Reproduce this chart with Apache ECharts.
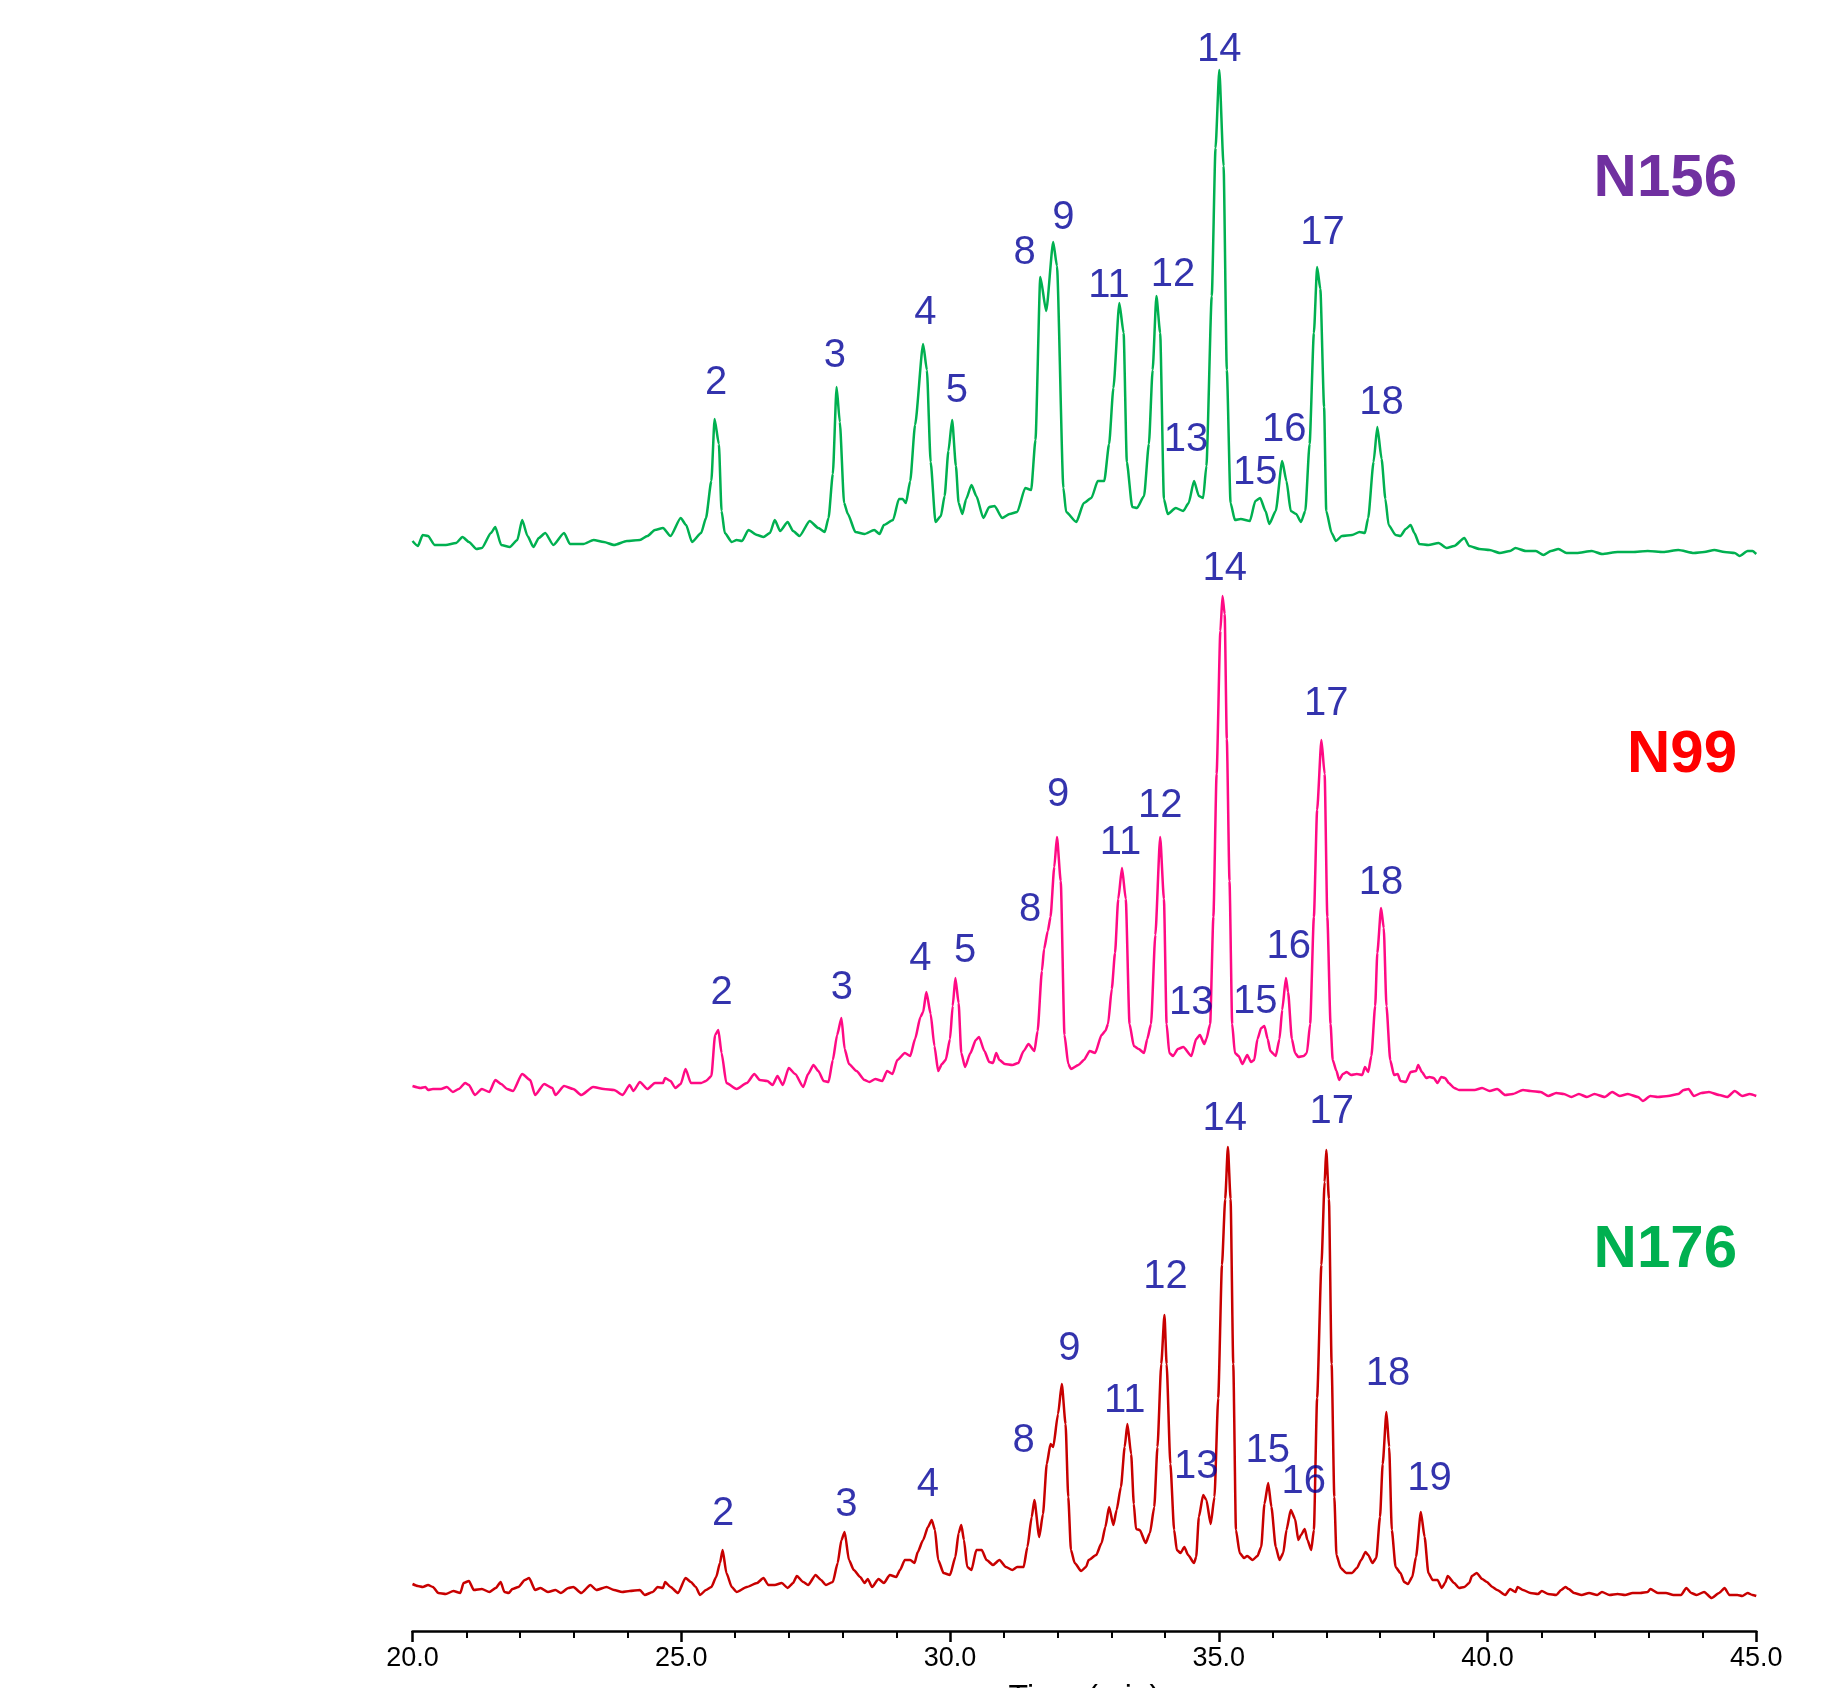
<!DOCTYPE html>
<html>
<head>
<meta charset="utf-8">
<script src="https://cdn.jsdelivr.net/npm/echarts@6.0.0/dist/echarts.min.js"></script>
<style>
  html, body { margin: 0; padding: 0; background: #ffffff; }
  #chart { width: 1832px; height: 1688px; }
</style>
</head>
<body>
<div id="chart"></div>
<script>
// ---- Data (retention time in min, detector response in arbitrary units) ----
const xTickLabels = ['20.0', '25.0', '30.0', '35.0', '40.0', '45.0'];
const sampleNames = ['N156', 'N99', 'N176'];

const n156Trace = [[20.00,19],[20.10,14],[20.19,25],[20.29,24],[20.41,15],[20.62,15],[20.81,17],[20.93,23],[21.05,18],[21.19,11],[21.29,12],[21.46,27],[21.54,33],[21.65,15],[21.81,13],[21.95,20],[22.04,40],[22.14,24],[22.25,13],[22.35,22],[22.47,27],[22.62,15],[22.82,27],[22.93,16],[23.04,16],[23.18,16],[23.37,20],[23.56,18],[23.75,15],[23.99,19],[24.23,20],[24.37,24],[24.51,30],[24.66,32],[24.80,24],[24.99,42],[25.09,35],[25.20,18],[25.37,27],[25.46,42],[25.56,79],[25.62,141],[25.70,116],[25.75,49],[25.81,27],[25.94,18],[26.03,20],[26.13,19],[26.25,30],[26.41,25],[26.53,23],[26.65,27],[26.74,40],[26.84,29],[26.98,38],[27.08,29],[27.20,24],[27.39,39],[27.55,32],[27.67,28],[27.74,42],[27.82,86],[27.89,173],[27.95,138],[28.03,57],[28.10,46],[28.24,28],[28.41,26],[28.59,30],[28.69,26],[28.77,35],[28.94,40],[29.05,61],[29.12,61],[29.18,57],[29.26,79],[29.35,135],[29.50,216],[29.57,190],[29.64,98],[29.73,38],[29.83,44],[29.90,64],[29.97,109],[30.04,140],[30.11,94],[30.16,57],[30.23,46],[30.30,61],[30.40,75],[30.49,64],[30.62,42],[30.73,53],[30.83,54],[30.97,42],[31.11,46],[31.25,48],[31.40,72],[31.51,70],[31.59,120],[31.68,283],[31.79,249],[31.92,318],[31.99,294],[32.11,72],[32.16,48],[32.35,38],[32.49,57],[32.63,62],[32.75,79],[32.87,79],[32.96,116],[33.04,172],[33.15,257],[33.23,227],[33.29,98],[33.39,53],[33.48,52],[33.61,64],[33.70,116],[33.77,190],[33.84,264],[33.91,227],[33.98,61],[34.05,46],[34.20,52],[34.34,49],[34.44,57],[34.54,79],[34.63,64],[34.71,62],[34.77,94],[34.87,264],[34.94,412],[35.01,490],[35.09,394],[35.15,190],[35.22,57],[35.30,40],[35.41,41],[35.58,39],[35.68,59],[35.77,62],[35.87,49],[35.94,36],[36.06,49],[36.18,99],[36.26,79],[36.34,49],[36.44,46],[36.53,38],[36.61,49],[36.69,116],[36.77,227],[36.83,293],[36.89,271],[36.96,153],[37.00,49],[37.10,27],[37.18,19],[37.29,24],[37.48,25],[37.62,28],[37.72,27],[37.78,42],[37.88,98],[37.95,133],[38.03,101],[38.10,61],[38.16,35],[38.29,25],[38.38,24],[38.48,31],[38.57,35],[38.64,27],[38.73,16],[38.90,15],[39.09,17],[39.24,12],[39.38,14],[39.57,22],[39.66,14],[39.85,11],[40.04,10],[40.23,7],[40.42,9],[40.52,12],[40.71,9],[40.90,9],[41.04,5],[41.18,9],[41.32,11],[41.47,7],[41.66,7],[41.94,9],[42.13,6],[42.42,8],[42.70,8],[42.98,9],[43.27,8],[43.55,10],[43.84,7],[44.03,8],[44.22,10],[44.41,8],[44.60,7],[44.69,4],[44.84,9],[44.93,9],[45.00,6]];

const n99Trace = [[20.00,18],[20.15,16],[20.24,17],[20.29,14],[20.38,15],[20.53,15],[20.64,17],[20.75,12],[20.86,15],[20.98,21],[21.05,19],[21.16,9],[21.29,15],[21.43,12],[21.54,24],[21.65,20],[21.76,15],[21.87,13],[22.04,30],[22.19,24],[22.28,9],[22.45,20],[22.60,16],[22.66,9],[22.82,18],[22.99,15],[23.14,9],[23.36,17],[23.56,15],[23.75,14],[23.91,9],[24.04,19],[24.11,13],[24.23,22],[24.37,15],[24.51,21],[24.66,21],[24.70,26],[24.80,23],[24.89,16],[24.99,20],[25.08,35],[25.18,21],[25.37,21],[25.46,23],[25.56,28],[25.63,69],[25.69,74],[25.75,51],[25.84,21],[26.03,15],[26.22,21],[26.36,30],[26.46,24],[26.60,23],[26.70,19],[26.79,28],[26.89,19],[27.00,36],[27.12,30],[27.27,17],[27.36,30],[27.46,39],[27.55,33],[27.65,23],[27.74,22],[27.82,44],[27.90,69],[27.98,86],[28.04,55],[28.12,40],[28.26,33],[28.41,24],[28.50,22],[28.61,25],[28.74,23],[28.83,33],[28.93,30],[29.02,44],[29.16,51],[29.26,48],[29.35,65],[29.45,87],[29.50,92],[29.56,112],[29.64,90],[29.71,58],[29.78,33],[29.85,40],[29.92,44],[30.00,65],[30.05,98],[30.10,126],[30.16,101],[30.21,51],[30.28,37],[30.38,51],[30.48,64],[30.54,67],[30.64,53],[30.73,42],[30.80,41],[30.86,51],[30.92,44],[31.02,40],[31.16,39],[31.27,41],[31.37,53],[31.46,60],[31.57,53],[31.63,73],[31.71,133],[31.75,155],[31.82,173],[31.87,187],[31.94,237],[31.99,267],[32.06,223],[32.13,69],[32.20,40],[32.25,35],[32.39,39],[32.49,44],[32.60,53],[32.70,51],[32.82,69],[32.89,73],[32.94,80],[33.01,115],[33.07,151],[33.13,205],[33.20,236],[33.27,205],[33.34,80],[33.42,58],[33.51,55],[33.61,51],[33.67,65],[33.74,80],[33.82,169],[33.91,267],[33.98,205],[34.03,80],[34.08,51],[34.15,48],[34.24,55],[34.34,57],[34.49,48],[34.58,65],[34.65,69],[34.73,60],[34.77,65],[34.84,80],[34.90,187],[34.96,330],[35.03,473],[35.07,508],[35.11,490],[35.15,365],[35.20,223],[35.25,80],[35.30,51],[35.37,48],[35.44,40],[35.53,49],[35.60,42],[35.66,44],[35.72,65],[35.79,76],[35.85,78],[35.91,65],[35.96,53],[36.06,48],[36.13,65],[36.18,94],[36.25,126],[36.29,112],[36.36,65],[36.42,51],[36.48,47],[36.58,48],[36.64,51],[36.70,80],[36.77,187],[36.83,294],[36.91,364],[36.97,330],[37.02,187],[37.08,80],[37.12,44],[37.19,33],[37.24,24],[37.31,30],[37.38,32],[37.46,29],[37.57,30],[37.67,29],[37.72,37],[37.78,32],[37.84,48],[37.91,98],[37.95,151],[38.02,196],[38.07,176],[38.12,98],[38.19,44],[38.26,29],[38.33,30],[38.38,23],[38.48,22],[38.57,32],[38.67,33],[38.71,39],[38.78,32],[38.86,26],[38.92,27],[39.00,26],[39.07,21],[39.14,27],[39.21,26],[39.28,21],[39.38,16],[39.47,14],[39.62,14],[39.76,14],[39.90,16],[40.04,13],[40.18,15],[40.33,9],[40.47,10],[40.66,14],[40.80,13],[40.99,12],[41.13,8],[41.28,11],[41.42,10],[41.56,7],[41.70,10],[41.85,7],[41.99,10],[42.18,7],[42.32,12],[42.46,8],[42.61,10],[42.80,7],[42.89,3],[43.03,8],[43.17,7],[43.36,8],[43.55,10],[43.65,14],[43.74,15],[43.84,8],[43.98,11],[44.12,12],[44.31,9],[44.46,7],[44.60,13],[44.74,8],[44.88,10],[45.00,8]];

const n176Trace = [[20.00,47],[20.10,45],[20.19,44],[20.29,46],[20.38,44],[20.48,38],[20.62,37],[20.76,40],[20.89,38],[20.95,48],[21.05,50],[21.14,41],[21.29,42],[21.43,39],[21.55,43],[21.64,49],[21.71,39],[21.79,38],[21.86,42],[21.97,44],[22.09,51],[22.17,53],[22.28,41],[22.38,43],[22.52,39],[22.66,41],[22.76,38],[22.90,43],[22.99,44],[23.14,38],[23.31,46],[23.42,41],[23.61,44],[23.75,41],[23.90,39],[24.04,40],[24.23,41],[24.32,36],[24.47,39],[24.56,44],[24.66,43],[24.70,49],[24.80,44],[24.94,38],[25.08,53],[25.18,49],[25.27,44],[25.35,36],[25.46,41],[25.56,44],[25.65,54],[25.72,68],[25.77,81],[25.84,58],[25.94,44],[26.03,39],[26.22,44],[26.41,48],[26.53,53],[26.62,46],[26.74,46],[26.87,48],[26.98,43],[27.08,48],[27.15,55],[27.27,49],[27.36,46],[27.50,56],[27.60,51],[27.69,46],[27.82,49],[27.91,68],[27.98,91],[28.04,99],[28.12,71],[28.21,61],[28.33,54],[28.41,48],[28.47,52],[28.55,44],[28.67,52],[28.77,48],[28.88,56],[29.00,54],[29.07,61],[29.16,71],[29.26,71],[29.34,68],[29.40,79],[29.50,91],[29.59,104],[29.66,111],[29.72,101],[29.78,71],[29.88,58],[30.00,56],[30.10,74],[30.16,98],[30.21,106],[30.26,91],[30.32,64],[30.40,61],[30.49,81],[30.59,81],[30.68,71],[30.80,66],[30.92,71],[31.04,64],[31.16,61],[31.25,64],[31.37,64],[31.44,84],[31.52,114],[31.57,131],[31.66,94],[31.73,117],[31.80,167],[31.87,187],[31.92,184],[32.01,217],[32.08,247],[32.15,207],[32.20,134],[32.25,81],[32.32,68],[32.44,60],[32.53,64],[32.58,71],[32.72,76],[32.82,88],[32.89,104],[32.96,124],[33.04,106],[33.10,121],[33.18,144],[33.25,184],[33.30,207],[33.37,177],[33.42,127],[33.46,102],[33.53,101],[33.64,88],[33.72,98],[33.80,124],[33.86,184],[33.93,267],[33.99,316],[34.03,267],[34.10,167],[34.17,101],[34.22,81],[34.29,78],[34.36,84],[34.43,76],[34.54,68],[34.58,74],[34.63,114],[34.71,136],[34.77,131],[34.85,107],[34.92,134],[34.99,233],[35.06,366],[35.12,432],[35.17,484],[35.22,432],[35.27,267],[35.32,101],[35.39,78],[35.47,73],[35.53,75],[35.63,71],[35.72,75],[35.79,84],[35.85,127],[35.92,148],[35.98,124],[36.06,84],[36.13,71],[36.20,78],[36.26,101],[36.34,121],[36.42,112],[36.48,91],[36.53,96],[36.60,102],[36.65,91],[36.72,81],[36.77,101],[36.83,233],[36.91,366],[36.97,449],[37.00,481],[37.05,432],[37.10,267],[37.15,134],[37.19,76],[37.27,63],[37.37,58],[37.48,58],[37.57,63],[37.65,71],[37.73,79],[37.78,76],[37.86,68],[37.93,73],[38.00,114],[38.05,167],[38.12,219],[38.17,184],[38.22,101],[38.29,64],[38.38,58],[38.45,49],[38.52,47],[38.60,54],[38.67,74],[38.76,119],[38.83,94],[38.90,58],[38.98,51],[39.07,51],[39.15,43],[39.21,48],[39.26,55],[39.38,48],[39.47,43],[39.57,44],[39.66,48],[39.71,55],[39.80,58],[39.90,52],[39.99,49],[40.09,44],[40.18,41],[40.33,36],[40.42,42],[40.52,39],[40.56,44],[40.66,41],[40.80,38],[40.94,37],[41.01,40],[41.13,37],[41.28,36],[41.37,41],[41.45,44],[41.51,42],[41.61,38],[41.75,36],[41.89,38],[42.04,36],[42.13,39],[42.27,36],[42.42,37],[42.56,36],[42.70,38],[42.84,38],[42.98,39],[43.03,42],[43.17,38],[43.32,38],[43.46,36],[43.60,36],[43.70,43],[43.79,38],[43.89,36],[44.03,39],[44.17,33],[44.31,38],[44.41,43],[44.50,36],[44.65,36],[44.74,35],[44.84,38],[44.93,36],[45.00,35]];

// Peak annotations (peak number, label anchor time, label anchor response)
const n156Peaks = ['2','3','4','5','8','9','11','12','13','14','15','16','17','18'];
const n156PeakT = [25.65,27.86,29.54,30.13,31.39,32.11,32.96,34.15,34.39,35.01,35.68,36.22,36.93,38.03];
const n156PeakV = [177,204,247,169,307,342,274,285,120,510,87,130,327,157];

const n99Peaks = ['2','3','4','5','8','9','11','12','13','14','15','16','17','18'];
const n99PeakT = [25.75,27.99,29.45,30.28,31.49,32.01,33.17,33.91,34.49,35.11,35.68,36.30,37.00,38.02];
const n99PeakV = [111,116,145,153,194,309,261,298,101,535,102,157,400,221];

const n176Peaks = ['2','3','4','8','9','11','12','13','14','15','16','17','18','19'];
const n176PeakT = [25.78,28.07,29.59,31.37,32.22,33.25,34.01,34.58,35.11,35.91,36.58,37.10,38.15,38.92];
const n176PeakV = [117,126,146,190,282,230,354,164,512,180,149,519,257,152];

// ---- Chart ----
const FONT = '"Liberation Sans", Arial, Helvetica, sans-serif';
const traceColors = ['#00b050', '#ff0a84', '#c80000'];
const nameColors = ['#7030a0', '#ff0000', '#00b050'];
const peakColor = '#000099';

const traces = [n156Trace, n99Trace, n176Trace];
const peakSets = [
  [n156Peaks, n156PeakT, n156PeakV],
  [n99Peaks, n99PeakT, n99PeakV],
  [n176Peaks, n176PeakT, n176PeakV]
];

const gridTops = [0, 544, 1071];
const gridH = 560;
const grid = gridTops.map(t => ({
  left: 412.5, right: 75.75, top: t, height: gridH,
  containLabel: false, outerBoundsMode: 'none'
}));

const xAxis = gridTops.map((t, i) => {
  const isBottom = i === 2;
  return {
    gridIndex: i, type: 'value', min: 20, max: 45, interval: 5,
    show: isBottom,
    axisLine: { show: isBottom, onZero: false, lineStyle: { color: '#000', width: 2.5 } },
    axisTick: { show: isBottom, inside: false, length: 11, lineStyle: { color: '#000', width: 2.5 } },
    minorTick: { show: isBottom, splitNumber: 5, length: 7, lineStyle: { color: '#000', width: 2 } },
    splitLine: { show: false },
    minorSplitLine: { show: false },
    axisLabel: {
      show: isBottom, margin: 14, color: '#000', fontSize: 27, fontFamily: FONT,
      formatter: v => xTickLabels[Math.round((v - 20) / 5)]
    },
    name: isBottom ? 'Time (min)' : '',
    nameLocation: 'middle', nameGap: 51,
    nameTextStyle: { fontSize: 32, color: '#000', fontFamily: FONT }
  };
});

const yAxis = gridTops.map((t, i) => ({
  gridIndex: i, type: 'value', min: 0, max: gridH, show: false,
  splitLine: { show: false }
}));

const series = [];
traces.forEach((tr, i) => {
  series.push({
    type: 'line', name: sampleNames[i], xAxisIndex: i, yAxisIndex: i,
    data: tr, showSymbol: false, symbol: 'none',
    smooth: 0.2, smoothMonotone: 'x', clip: false,
    lineStyle: { color: traceColors[i], width: 2.5 },
    z: 2
  });
});
peakSets.forEach((ps, i) => {
  const [names, ts, vs] = ps;
  series.push({
    type: 'scatter', xAxisIndex: i, yAxisIndex: i, clip: false,
    symbol: 'circle', symbolSize: 1,
    itemStyle: { color: 'rgba(0,0,0,0)' },
    data: names.map((n, k) => ({ name: n, value: [ts[k], vs[k]] })),
    label: {
      show: true, position: 'inside', formatter: p => p.name,
      color: peakColor, fontSize: 40, fontFamily: FONT,
      align: 'center', verticalAlign: 'middle'
    },
    z: 3
  });
});

const nameY = [179, 755, 1250];
const graphic = sampleNames.map((n, i) => ({
  type: 'text', x: 1737, y: nameY[i], z: 10,
  style: {
    text: n, fill: nameColors[i], fontSize: 60, fontWeight: 'bold', fontFamily: FONT,
    align: 'right', verticalAlign: 'middle'
  }
}));

const chart = echarts.init(document.getElementById('chart'), null, { renderer: 'canvas' });
chart.setOption({
  animation: false,
  backgroundColor: '#ffffff',
  grid, xAxis, yAxis, series, graphic,
  tooltip: { show: false }
});
</script>
</body>
</html>
